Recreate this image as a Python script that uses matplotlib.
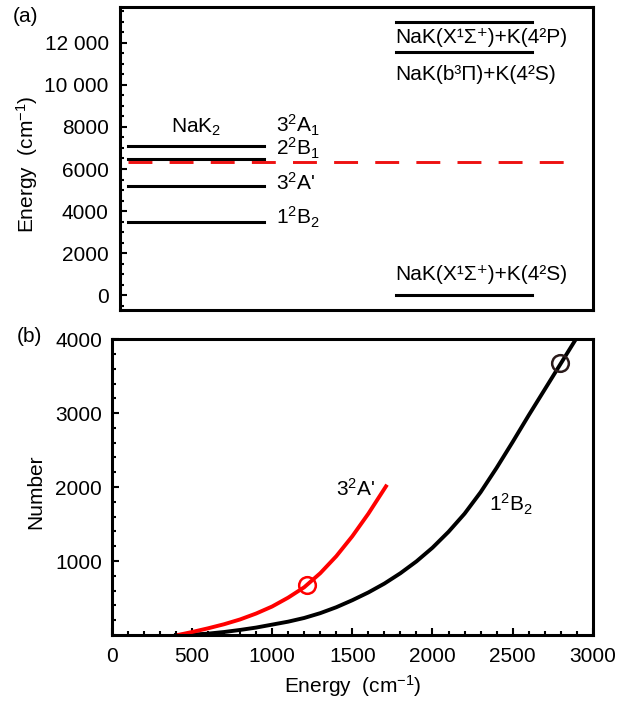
import matplotlib
matplotlib.use("Agg")
import matplotlib.pyplot as plt
from matplotlib.ticker import MultipleLocator

plt.rcParams["font.family"] = ["Liberation Sans", "DejaVu Sans"]
plt.rcParams["mathtext.fontset"] = "custom"
plt.rcParams["mathtext.rm"] = "Liberation Sans"
plt.rcParams["mathtext.it"] = "Liberation Sans:italic"
plt.rcParams["mathtext.default"] = "regular"
plt.rcParams["font.size"] = 15

# --- panel (a): energy levels (cm-1) ---
nak2_levels = [3500, 5200, 6460, 7100]
nak2_labels = [r"1$^2$B$_2$", r"3$^2$A'", r"2$^2$B$_1$", r"3$^2$A$_1$"]
nak2_label_y = [3380, 5000, 6620, 7750]   # text baselines
threshold = 6330
asym_levels = [0, 11570, 13000]
asym_labels = ["NaK(X¹Σ⁺)+K(4²S)", "NaK(b³Π)+K(4²S)", "NaK(X¹Σ⁺)+K(4²P)"]
asym_label_y = [714, 10240, 12000]        # text baselines
a_yticks = [0, 2000, 4000, 6000, 8000, 10000, 12000]
a_yticklabels = ["0", "2000", "4000", "6000", "8000", "10 000", "12 000"]

# --- panel (b): number of states vs energy ---
b12_E = [400, 500, 600, 700, 800, 900, 1000, 1100, 1200, 1300, 1400, 1500, 1600,
         1700, 1800, 1900, 2000, 2100, 2200, 2300, 2400, 2500, 2600, 2700, 2800, 2900]
b12_N = [0, 5, 18, 40, 68, 100, 140, 180, 230, 295, 375, 470, 575,
         695, 835, 995, 1180, 1395, 1640, 1930, 2260, 2610, 2970, 3320, 3670, 4020]
a32_E = [420, 500, 600, 700, 800, 900, 1000, 1100, 1200, 1300, 1400, 1500, 1600, 1710]
a32_N = [3, 40, 90, 145, 210, 290, 385, 505, 645, 835, 1065, 1335, 1640, 2010]
b12_mark = (2794, 3673)
a32_mark = (1216, 671)

fig = plt.figure(figsize=(6.28, 7.06), dpi=100)

# (a)
ax1 = fig.add_axes([0.191, 0.561, 0.753, 0.429])
for y in nak2_levels:
    ax1.plot([0.017, 0.304], [y, y], color="black", lw=2.2)
for lab, y in zip(nak2_labels, nak2_label_y):
    ax1.text(0.33, y, lab, ha="left", va="baseline", fontsize=15)
ax1.text(0.16, 7714, r"NaK$_2$", ha="center", va="baseline", fontsize=15)
ax1.plot([0.017, 0.968], [threshold, threshold], color="#ee1111", lw=2.1,
         dashes=(8.2, 5.9))
for y in asym_levels:
    ax1.plot([0.583, 0.871], [y, y], color="black", lw=2.2)
for lab, y in zip(asym_labels, asym_label_y):
    ax1.text(0.583, y, lab, ha="left", va="baseline", fontsize=15,
             family=["Liberation Sans", "DejaVu Sans"])

ax1.set_xlim(0, 1)
ax1.set_ylim(-700, 13700)
ax1.set_xticks([])
ax1.set_yticks(a_yticks)
ax1.set_yticklabels(a_yticklabels)
ax1.yaxis.set_minor_locator(MultipleLocator(500))
ax1.tick_params(axis="y", which="major", direction="in", length=5, width=1.5,
                pad=8, labelsize=15)
ax1.tick_params(axis="y", which="minor", direction="in", length=3, width=1.5)
ax1.set_ylabel(r"Energy  (cm$^{-1}$)", fontsize=15)
ax1.yaxis.set_label_coords(-0.17, 0.48)
for s in ax1.spines.values():
    s.set_linewidth(2.2)
fig.text(0.02, 0.977, "(a)", fontsize=15, va="center")

# (b)
ax2 = fig.add_axes([0.178, 0.1006, 0.766, 0.419])
ax2.plot(b12_E, b12_N, color="black", lw=2.8)
ax2.plot(a32_E, a32_N, color="#ff0000", lw=2.8)
ax2.plot(*a32_mark, marker="o", ms=12, mfc="none", mec="#ff0000", mew=1.8)
ax2.plot(*b12_mark, marker="o", ms=12, mfc="none", mec="#2a1a1a", mew=1.8)
ax2.text(1397, 1879, r"3$^2$A'", ha="left", va="baseline", fontsize=15)
ax2.text(2351, 1664, r"1$^2$B$_2$", ha="left", va="baseline", fontsize=15)

ax2.set_xlim(0, 3000)
ax2.set_ylim(0, 4000)
ax2.set_xticks([0, 500, 1000, 1500, 2000, 2500, 3000])
ax2.set_yticks([1000, 2000, 3000, 4000])
ax2.xaxis.set_minor_locator(MultipleLocator(100))
ax2.yaxis.set_minor_locator(MultipleLocator(200))
ax2.tick_params(which="major", direction="in", length=5, width=1.5, labelsize=15)
ax2.tick_params(which="minor", direction="in", length=3, width=1.5)
ax2.tick_params(axis="x", pad=9)
ax2.tick_params(axis="y", pad=7)
ax2.set_xlabel(r"Energy  (cm$^{-1}$)", fontsize=15, labelpad=5)
ax2.set_ylabel("Number", fontsize=15)
ax2.yaxis.set_label_coords(-0.139, 0.483)
for s in ax2.spines.values():
    s.set_linewidth(2.2)
fig.text(0.027, 0.524, "(b)", fontsize=15, va="center")

fig.savefig("out.png", dpi=100)
